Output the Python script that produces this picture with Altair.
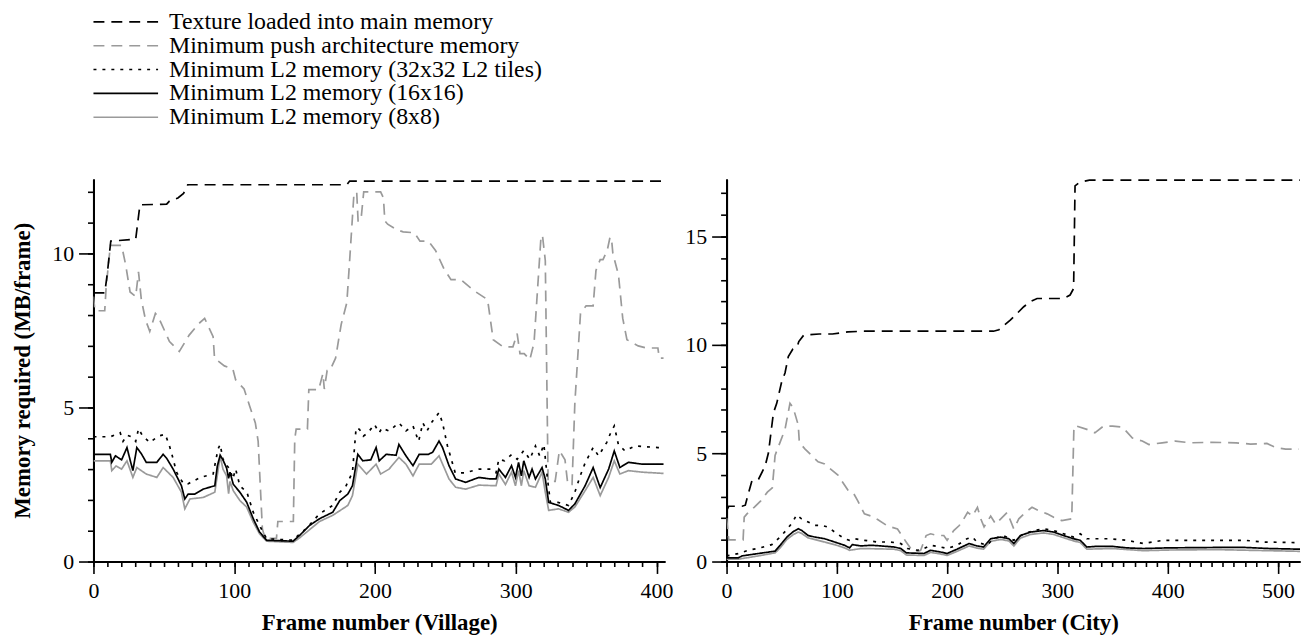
import altair as alt
import pandas as pd

SERIES = [
    "Texture loaded into main memory",
    "Minimum push architecture memory",
    "Minimum L2 memory (32x32 L2 tiles)",
    "Minimum L2 memory (16x16)",
    "Minimum L2 memory (8x8)",
]
COLORS = ["#000000", "#9a9a9a", "#000000", "#000000", "#9a9a9a"]
DASHES = [[11, 7], [11, 7], [3, 6], [1, 0], [1, 0]]

# ---------------- Village ----------------
V_TEX_F = [0, 8, 9.7, 12.3, 30, 33, 52, 54, 60, 64, 67, 180, 182, 406]
V_TEX_V = [8.72, 8.72, 9.3, 10.4, 10.46, 11.58, 11.6, 11.7, 11.8, 11.95, 12.23, 12.23, 12.35, 12.35]

V_PUSH_F = [0, 1, 8, 9, 12, 20, 23, 26, 30, 32, 34, 37, 40, 44, 46, 54, 61, 68, 75, 79, 85, 86,
            93, 99, 101, 107, 111, 115, 117, 120, 122, 130, 131, 142, 143, 144, 152, 153, 160,
            163, 164, 166, 168, 172, 176, 180, 182, 185, 187, 188, 190, 192, 204, 206, 207, 209,
            215, 220, 228, 232, 238, 243, 249, 254, 261, 270, 280, 284, 291, 298, 301, 303, 306,
            310, 313, 318, 319, 321, 323, 328, 331, 335, 337, 340, 342, 346, 350, 355, 357, 360,
            362, 365, 367, 368, 369, 373, 376, 379, 387, 393, 401, 402, 405]
V_PUSH_V = [8.6, 8.14, 8.14, 8.9, 10.26, 10.26, 9.6, 8.75, 8.6, 9.4, 8.5, 7.84, 7.47, 8.05, 7.95,
            7.14, 6.82, 7.35, 7.73, 7.89, 7.3, 6.6, 6.35, 6.25, 5.9, 5.6, 5.04, 4.5, 3.9, 1.06,
            0.75, 0.75, 1.3, 1.3, 3.97, 4.3, 4.3, 5.58, 5.58, 6.1, 5.6, 6.2, 6.2, 6.6, 7.7, 8.4,
            9.77, 11.9, 12.0, 11.06, 11.06, 12.0, 12.0, 11.8, 11.06, 10.95, 10.78, 10.7, 10.67,
            10.4, 10.4, 10.1, 9.5, 9.15, 9.15, 8.8, 8.5, 7.2, 6.97, 6.97, 7.4, 6.75, 6.75, 6.55,
            7.1, 10.58, 10.58, 9.77, 2.6, 2.6, 3.6, 3.3, 2.5, 2.5, 5.15, 8.05, 8.3, 8.3, 9.45,
            9.8, 9.8, 10.1, 10.53, 10.5, 10.0, 9.3, 7.9, 7.2, 7.0, 6.93, 6.93, 6.6, 6.6]

V_L32_F = [0, 12, 19, 21, 24, 27, 30, 32, 35, 38, 40, 46, 51, 54, 56, 59, 64, 67, 76, 85, 88.5,
           90, 92, 95, 97, 99, 101, 104, 109, 113.5, 118, 123, 142, 146.5, 151, 160.6, 170, 175,
           179.5, 184, 186.6, 189, 191.7, 195, 199.6, 203, 205, 207, 210, 217, 222, 227, 231,
           234, 237, 240, 245.5, 248, 251.5, 257, 264, 274, 282, 286, 288, 292, 297, 301, 305.7,
           310, 314, 317, 320, 322.3, 324.6, 330, 337.5, 342, 345.8, 349.3, 355, 358.8, 364.6,
           367, 370, 372.9, 377.6, 384.7, 401, 405]
V_L32_V = [4.05, 4.05, 4.18, 3.9, 4.1, 4.05, 3.9, 4.31, 4.07, 3.95, 3.86, 4.07, 4.13, 3.75, 3.43,
           2.9, 2.52, 2.52, 2.73, 2.84, 3.65, 3.8, 3.32, 3.1, 3.0, 2.68, 3.0, 2.46, 2.25, 1.6,
           1.17, 0.74, 0.69, 0.9, 1.06, 1.55, 1.82, 2.25, 2.46, 2.9, 4.34, 4.29, 4.07, 4.18, 4.45,
           4.18, 4.34, 4.29, 4.24, 4.5, 4.24, 4.4, 3.9, 4.5, 4.24, 4.5, 4.83, 4.5, 3.75, 2.88,
           2.88, 3.0, 3.0, 2.88, 3.32, 3.27, 3.47, 3.32, 3.6, 3.32, 3.75, 3.43, 3.8, 2.78, 1.92,
           1.92, 1.82, 2.25, 2.78, 3.2, 3.7, 3.43, 3.86, 4.13, 4.4, 3.8, 3.59, 3.75, 3.7, 3.7]

V_L16_F = [0, 12, 13, 15.6, 20, 23.8, 26, 28, 30.8, 34, 37.5, 45, 49.5, 52, 56.6, 62.5, 64.9,
           67.3, 72, 78, 86.2, 88, 90, 92, 94.6, 96, 97, 99.3, 104, 108.8, 113.5, 118, 123,
           141.8, 146.5, 153.5, 160.6, 170, 175, 180.7, 184, 187.8, 191.3, 197, 200.8, 203, 208,
           215, 217, 222, 227, 231.4, 238, 241, 245.5, 248, 252.6, 257.3, 264.4, 273.8, 282, 286,
           288, 292.7, 297, 299.8, 302, 304, 305.7, 309.5, 311.6, 314, 318.7, 321, 323.4, 330.4,
           337.5, 342, 349.3, 355, 360, 366, 370, 374, 380, 390, 405]
V_L16_V = [3.48, 3.48, 3.22, 3.43, 3.3, 3.7, 3.3, 2.95, 3.7, 3.5, 3.22, 3.22, 3.48, 3.35, 3.0,
           2.46, 2.03, 2.19, 2.19, 2.35, 2.46, 3.1, 3.45, 3.3, 3.03, 2.7, 2.9, 2.51, 2.25, 1.93,
           1.39, 0.96, 0.69, 0.66, 0.85, 1.17, 1.39, 1.6, 1.98, 2.19, 2.46, 3.48, 3.27, 3.3, 3.7,
           3.27, 3.48, 3.45, 3.8, 3.43, 3.11, 3.48, 3.48, 3.55, 3.91, 3.7, 3.11, 2.68, 2.57, 2.73,
           2.68, 2.68, 3.0, 2.73, 3.11, 2.73, 3.22, 2.78, 3.27, 2.73, 3.0, 2.68, 3.05, 2.68, 1.92,
           1.82, 1.66, 1.87, 2.46, 3.05, 2.4, 3.0, 3.59, 3.05, 3.22, 3.16, 3.16]

V_L8_F = [0, 12, 13, 16, 20, 23.8, 28, 30.8, 37.5, 45, 49.5, 56.6, 62.5, 64.9, 68.5, 78, 86.2,
          88, 90, 92, 94.6, 96, 97, 99.3, 104, 108.8, 113.5, 118, 123, 141.8, 146.5, 160.6, 170,
          180.7, 184, 187.8, 194, 200.8, 204, 210, 217, 222, 227, 231.4, 240, 245.5, 252.6,
          257.3, 264.4, 273.8, 286, 288, 292.7, 297, 299.8, 302, 304, 305.7, 309.5, 314, 318.7,
          321, 323.4, 330.4, 337.5, 342, 349.3, 355, 360, 366, 370, 374, 380, 390, 405]
V_L8_V = [3.27, 3.27, 2.95, 3.1, 3.0, 3.27, 2.73, 3.05, 2.84, 2.73, 3.05, 2.73, 2.25, 1.71, 2.03,
          2.08, 2.25, 2.8, 3.43, 3.0, 2.78, 2.2, 2.6, 2.3, 1.98, 1.77, 1.28, 0.9, 0.66, 0.62,
          0.77, 1.3, 1.5, 1.82, 2.14, 3.16, 2.84, 3.16, 2.84, 3.0, 3.38, 3.16, 2.78, 3.16, 3.16,
          3.43, 2.68, 2.41, 2.35, 2.48, 2.46, 2.84, 2.5, 2.9, 2.46, 2.95, 2.46, 2.95, 2.46, 2.41,
          2.9, 2.25, 1.66, 1.71, 1.6, 1.77, 2.3, 2.73, 2.14, 2.73, 3.27, 2.84, 2.95, 2.9, 2.86]

# ---------------- City ----------------
C_TEX_F = [0, 2, 14, 17, 19, 23, 29, 35, 38, 42.5, 45.5, 50, 53, 56, 60, 64, 65.5, 70, 84, 96,
           110, 125, 242, 247, 257.5, 269.5, 275.6, 281.6, 305.5, 311.5, 314.7, 316, 320, 329, 520]
C_TEX_V = [2.35, 2.55, 2.55, 2.6, 3.0, 3.73, 3.8, 4.41, 5.02, 6.86, 7.3, 8.3, 8.7, 9.46, 9.8,
           9.9, 10.15, 10.45, 10.5, 10.5, 10.6, 10.63, 10.63, 10.7, 11.15, 11.76, 12.0, 12.14,
           12.14, 12.3, 12.6, 17.34, 17.5, 17.6, 17.6]

C_PUSH_F = [0, 2, 15, 16, 18.5, 25, 31, 37, 41.5, 44, 48.5, 53, 57.5, 60.4, 65, 66, 71, 77, 83,
            89, 93.6, 101, 110, 114.6, 119, 125, 131, 137, 146, 155, 163, 167, 172, 176, 181, 185,
            191, 197, 200, 206, 211, 215, 218.6, 223, 227.5, 230.5, 233.5, 239.5, 244, 250, 254.5,
            260.5, 265, 271, 277, 283, 290.7, 296.6, 304, 313, 315, 317.7, 326.7, 334, 341.8, 350,
            359, 368, 377, 383, 395, 407, 420, 440, 462, 475, 490, 498, 507, 519]
C_PUSH_V = [2.0, 1.0, 1.0, 2.05, 2.2, 2.5, 2.8, 3.2, 3.4, 4.9, 5.5, 6.1, 7.3, 7.1, 6.3, 5.5, 5.2,
            4.9, 4.6, 4.5, 4.3, 3.99, 3.3, 3.2, 2.8, 2.2, 2.1, 1.94, 1.64, 1.5, 0.89, 0.6, 0.44,
            0.52, 1.2, 1.28, 1.2, 1.2, 0.98, 1.43, 1.66, 1.96, 2.27, 2.1, 2.5, 1.97, 1.6, 2.1,
            1.73, 2.04, 2.27, 1.5, 1.97, 2.27, 2.5, 2.35, 2.2, 2.04, 1.89, 1.97, 6.25, 6.25, 6.1,
            5.94, 6.25, 6.25, 6.2, 5.7, 5.56, 5.4, 5.48, 5.56, 5.48, 5.5, 5.48, 5.42, 5.45, 5.26,
            5.19, 5.19]

C_L32_F = [0, 10.8, 19.8, 30.4, 41, 48.6, 54.7, 60, 63.5, 68, 74, 80, 86, 92, 98, 107, 111.6,
           116, 125, 137, 149, 158, 164, 173, 179, 185, 194, 200, 209, 218, 223, 227, 236, 242,
           251, 260.5, 269.5, 278.6, 287.6, 296.6, 305.6, 314.7, 320.7, 326.7, 347.8, 362.8, 378,
           396, 438, 470, 486, 520]
C_L32_V = [0.26, 0.37, 0.52, 0.63, 0.78, 1.13, 1.48, 1.82, 2.16, 1.97, 1.82, 1.67, 1.67, 1.59,
           1.36, 1.05, 0.98, 1.05, 0.98, 0.9, 0.9, 0.83, 0.6, 0.52, 0.6, 0.75, 0.67, 0.6, 0.75,
           1.05, 1.13, 0.9, 0.75, 1.05, 1.2, 0.98, 1.28, 1.43, 1.51, 1.43, 1.28, 1.13, 1.28, 1.05,
           1.05, 0.98, 0.83, 0.98, 0.98, 0.98, 0.9, 0.87]

C_L16_F = [0, 10.8, 14, 29, 44, 48.6, 54.7, 60.7, 65, 68, 74, 80, 89, 98, 107, 111.6, 114, 122,
           131, 140, 152, 158, 163, 179, 185, 194, 200, 209, 220, 227, 233, 239.5, 248.5, 256,
           260.5, 266.5, 275.6, 287.6, 296.6, 305.6, 314.7, 320.7, 326.7, 335.6, 350, 362.8, 378,
           400, 444, 470, 492, 520]
C_L16_V = [0.17, 0.17, 0.26, 0.37, 0.48, 0.75, 1.13, 1.39, 1.51, 1.44, 1.2, 1.13, 1.05, 0.9,
           0.75, 0.63, 0.78, 0.72, 0.75, 0.72, 0.67, 0.6, 0.4, 0.37, 0.52, 0.44, 0.37, 0.57, 0.83,
           0.72, 0.67, 1.05, 1.13, 1.05, 0.83, 1.2, 1.36, 1.43, 1.36, 1.2, 1.05, 0.98, 0.67, 0.7,
           0.7, 0.63, 0.6, 0.63, 0.65, 0.65, 0.6, 0.57]

C_L8_F = [0, 10.8, 29, 44, 48.6, 54.7, 60.7, 65, 68, 74, 89, 98, 107, 111.6, 122, 152, 158, 163,
          179, 185, 194, 200, 209, 220, 227, 233, 239.5, 248.5, 256, 260.5, 266.5, 275.6, 287.6,
          296.6, 305.6, 314.7, 320.7, 326.7, 350, 378, 400, 444, 492, 520]
C_L8_V = [0.11, 0.11, 0.26, 0.4, 0.63, 1.02, 1.25, 1.36, 1.3, 1.09, 0.9, 0.78, 0.63, 0.52, 0.6,
          0.57, 0.5, 0.3, 0.28, 0.42, 0.35, 0.28, 0.47, 0.72, 0.62, 0.57, 0.93, 1.02, 0.95, 0.72,
          1.08, 1.25, 1.32, 1.25, 1.1, 0.95, 0.88, 0.57, 0.6, 0.5, 0.53, 0.55, 0.5, 0.47]

# axis tick positions
V_X_MAJOR = [0, 100, 200, 300, 400]
V_X_MINOR = list(range(0, 401, 10))
C_X_MAJOR = [0, 100, 200, 300, 400, 500]
C_X_MINOR = list(range(0, 511, 10))
V_Y_MAJOR = [0, 5, 10]
V_Y_MINOR = list(range(0, 13))
C_Y_MAJOR = [0, 5, 10, 15]
C_Y_MINOR = list(range(0, 18))

FONT = "Liberation Serif"


def build(parts):
    rows = []
    for order, (name, fs, vs) in enumerate(parts):
        for f, v in zip(fs, vs):
            rows.append({"series": name, "frame": f, "value": v, "ord": order})
    return pd.DataFrame(rows)


# draw order: grey first, black on top
village = build([
    (SERIES[1], V_PUSH_F, V_PUSH_V),
    (SERIES[4], V_L8_F, V_L8_V),
    (SERIES[2], V_L32_F, V_L32_V),
    (SERIES[3], V_L16_F, V_L16_V),
    (SERIES[0], V_TEX_F, V_TEX_V),
])
city = build([
    (SERIES[1], C_PUSH_F, C_PUSH_V),
    (SERIES[4], C_L8_F, C_L8_V),
    (SERIES[2], C_L32_F, C_L32_V),
    (SERIES[3], C_L16_F, C_L16_V),
    (SERIES[0], C_TEX_F, C_TEX_V),
])

legend = alt.Legend(
    title=None, orient="none", legendX=-1, legendY=-170,
    symbolType="stroke", symbolSize=4225, symbolStrokeWidth=1.6,
    clipHeight=24, rowPadding=0, labelOffset=10,
    labelFont=FONT, labelFontSize=24, labelColor="black", labelLimit=700,
)

AX = dict(
    grid=False, domainColor="black", domainWidth=2, tickColor="black", tickWidth=1.6,
    labelFont=FONT, labelFontSize=22, labelColor="black", labelFlush=False,
    labelOverlap=False, titleFont=FONT, titleFontSize=23, titleFontWeight="bold",
    titleColor="black",
)
AX_PLAIN = {k: v for k, v in AX.items() if not k.startswith(("label", "title"))}


def panel(df, xmax, ymax, xtitle, ytitle, xmaj, xmin, ymaj, ymin, w):
    xs = alt.Scale(domain=[0, xmax], nice=False, zero=False)
    ys = alt.Scale(domain=[0, ymax], nice=False, zero=True)

    lines = alt.Chart(df).mark_line(strokeWidth=1.7, clip=True).encode(
        x=alt.X("frame:Q", scale=xs,
                axis=alt.Axis(orient="bottom", values=xmin, labels=False, title=None,
                              tickSize=5, **AX_PLAIN)),
        y=alt.Y("value:Q", scale=ys,
                axis=alt.Axis(orient="left", values=ymin, labels=False, title=None,
                              tickSize=6, **AX_PLAIN)),
        color=alt.Color("series:N", scale=alt.Scale(domain=SERIES, range=COLORS), legend=legend),
        strokeDash=alt.StrokeDash("series:N", scale=alt.Scale(domain=SERIES, range=DASHES),
                                  legend=legend),
        order=alt.Order("ord:Q"),
    )

    yax = dict(AX, orient="left", values=ymaj, tickSize=15, labelPadding=5)
    if ytitle:
        yax.update(title=ytitle, titlePadding=17)
    else:
        yax.update(title=None)

    ghost = alt.Chart(df).mark_line(opacity=0).encode(
        x=alt.X("frame:Q", scale=xs,
                axis=alt.Axis(**dict(AX, orient="bottom", values=xmaj, tickSize=12,
                                     labelPadding=7, title=xtitle, titlePadding=10))),
        y=alt.Y("value:Q", scale=ys, axis=alt.Axis(**yax)),
        detail="series:N",
    )
    return alt.layer(lines, ghost).resolve_axis(x="independent", y="independent").properties(
        width=w, height=385)


left = panel(village, 406, 12.42, "Frame number (Village)", "Memory required (MB/frame)",
             V_X_MAJOR, V_X_MINOR, V_Y_MAJOR, V_Y_MINOR, 575)
right = panel(city, 520, 17.66, "Frame number (City)", None,
              C_X_MAJOR, C_X_MINOR, C_Y_MAJOR, C_Y_MINOR, 577)

chart = alt.hconcat(left, right, spacing=11).properties(
    padding={"left": 4, "top": 0, "right": 2, "bottom": 2},
    background="white",
).configure_view(stroke=None)

chart.save("out.html", embed_options={"renderer": "svg", "actions": False})
